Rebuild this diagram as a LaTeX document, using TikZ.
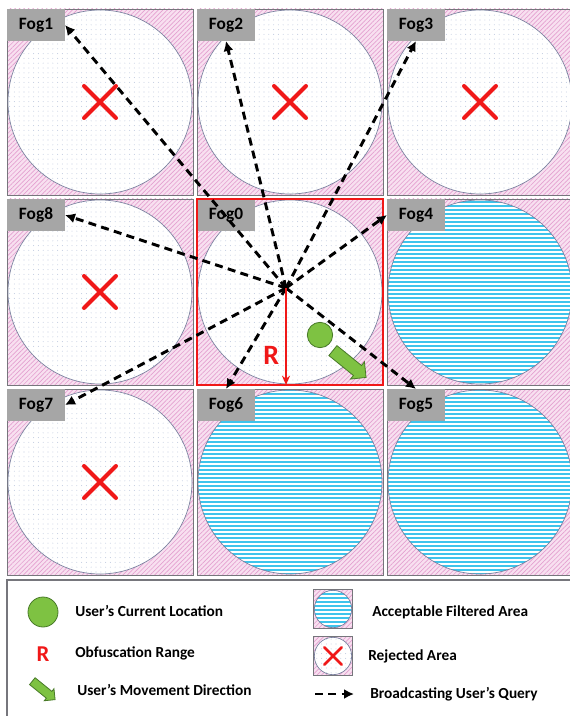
\documentclass[tikz,border=0pt]{standalone}
\usepackage{fontspec}
\setmainfont{Carlito}
\usetikzlibrary{arrows.meta,patterns.meta,shapes.misc,shapes.arrows}

\definecolor{cellpink}{RGB}{248,224,240}
\definecolor{hatchpink}{RGB}{228,160,208}
\definecolor{cellline}{RGB}{118,118,124}
\definecolor{zoneline}{RGB}{120,128,158}
\definecolor{fogbox}{RGB}{166,166,166}
\definecolor{stripeblue}{RGB}{62,196,236}
\definecolor{dotblue}{RGB}{196,206,226}
\definecolor{markred}{RGB}{240,24,24}
\definecolor{usergreen}{RGB}{126,194,66}
\definecolor{userdark}{RGB}{72,122,40}

\begin{document}
\begin{tikzpicture}[
  x=.75pt, y=-.75pt,
  font=\bfseries,
  cell/.style={draw=cellline, line width=.6pt, preaction={fill=cellpink},
               pattern={Lines[angle=45,distance=2.4pt,line width=.5pt]},
               pattern color=hatchpink,
               minimum size=139.5pt, inner sep=0pt, outer sep=0pt},
  zone/.style={circle, draw=zoneline, line width=.5pt,
               minimum size=138pt, inner sep=0pt, outer sep=0pt},
  rejected/.style={zone, preaction={fill=white},
                   pattern={Dots[distance=3.6pt,radius=.4pt]},
                   pattern color=dotblue},
  accepted/.style={zone, preaction={fill=stripeblue},
                   pattern={Lines[angle=0,distance=3pt,line width=1.2pt]},
                   pattern color=white},
  fog/.style={fill=fogbox, anchor=north west, minimum width=43.5pt,
              minimum height=24pt, inner sep=0pt, outer sep=0pt,
              font=\fontsize{13}{15}\selectfont\bfseries},
  nomark/.style={cross out, draw=markred, line width=3pt, line cap=round,
                 minimum size=21pt, inner sep=0pt},
  query/.style={line width=2.2pt, dash pattern=on 6pt off 4pt,
                -{Latex[length=7.5pt,width=7.5pt]}},
  obfusline/.style={draw=markred, line width=1.5pt,
                    -{Stealth[length=7pt,width=6pt]}},
  user/.style={circle, fill=usergreen, draw=userdark, line width=.6pt,
               inner sep=0pt, minimum size=19pt},
  move/.style={single arrow, fill=usergreen, draw=userdark, line width=.6pt,
               inner xsep=0pt, inner ysep=4.5pt, single arrow head extend=3.5pt,
               minimum height=32pt, rotate=-39},
  keytext/.style={anchor=west, inner sep=0pt,
                  font=\fontsize{11.5}{13}\selectfont\bfseries}
]
\useasboundingbox (0,0) rectangle (569,716);

% fog cells, 3x3 grid
\node[cell] (cell1) at (100,102) {};
\node[cell] (cell2) at (290,102) {};
\node[cell] (cell3) at (480,102) {};
\node[cell] (cell8) at (100,292) {};
\node[cell] (cell0) at (290,292) {};
\node[cell] (cell4) at (480,292) {};
\node[cell] (cell7) at (100,482) {};
\node[cell] (cell6) at (290,482) {};
\node[cell] (cell5) at (480,482) {};

% coverage circles
\foreach \c in {1,2,3,8,0,7}
  \node[rejected] (zone\c) at (cell\c) {};
\foreach \c in {4,5,6}
  \node[accepted] (zone\c) at (cell\c) {};

% fog labels in the top left corners
\foreach \c in {1,2,3,4,5,6,7,8,0}
  \node[fog] (fog\c) at (cell\c.north west) {Fog\c};

% rejected areas
\foreach \c in {1,2,3,8,7}
  \node[nomark] (mark\c) at (cell\c) {};

% obfuscation cell
\draw[markred, line width=2.2pt] (cell0.north west) rectangle (cell0.south east);

% broadcast of the query
\coordinate (src) at (286,288);
\foreach \t in {fog1.east, fog2.south, fog3.south, fog4.west,
                fog5.north, fog6.north, fog7.east, fog8.east}
  \draw[query] (src) -- (\t);

\draw[obfusline] (src) -- (src |- cell0.south)
  node[pos=.7, left=1pt, text=markred, font=\fontsize{21}{21}\selectfont\bfseries] (rlabel) {R};

\node[user] (user) at (320,335) {};
\node[move] (heading) at (347,362) {};

% legend
\draw[cellline, line width=.8pt] (7,580) rectangle (590,740);

\node[user, minimum size=22.5pt] (keyuser) at (43,612) {};
\node[keytext] (keyusertxt) at (75,611) {User's Current Location};
\node[text=markred, font=\fontsize{17}{17}\selectfont\bfseries] (keyr) at (43,654) {R};
\node[keytext] (keyrtxt) at (75,653) {Obfuscation Range};
\node[move, minimum height=22pt, inner ysep=3pt,
      single arrow head extend=2.5pt] (keymove) at (42,689) {};
\node[keytext] (keymovetxt) at (77,690) {User's Movement Direction};

\node[cell, minimum size=29pt, line width=.5pt] (keyokcell) at (333,609) {};
\node[accepted, minimum size=28pt] (keyok) at (keyokcell) {};
\node[keytext] (keyoktxt) at (372,612) {Acceptable Filtered Area};
\node[cell, minimum size=29pt, line width=.5pt] (keynocell) at (333,656) {};
\node[rejected, minimum size=28pt] (keyno) at (keynocell) {};
\node[nomark, minimum size=11pt, line width=2pt] (keynomark) at (keynocell) {};
\node[keytext] (keynotxt) at (368,656) {Rejected Area};
\coordinate (keyqa) at (315,694);
\coordinate (keyqb) at (354,694);
\draw[query] (keyqa) -- (keyqb);
\node[keytext] (keyqtxt) at (370,694) {Broadcasting User's Query};
\end{tikzpicture}
\end{document}
